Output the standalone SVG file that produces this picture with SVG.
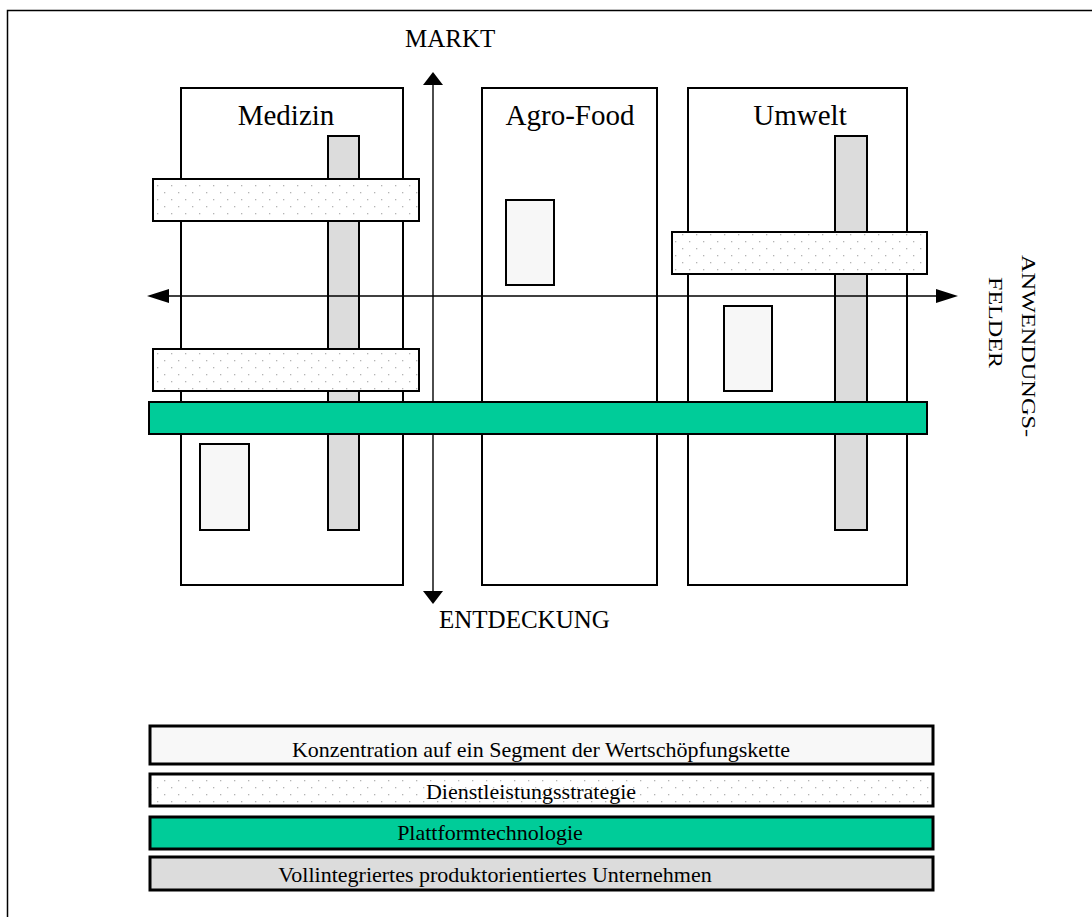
<svg xmlns="http://www.w3.org/2000/svg" width="1092" height="917" viewBox="0 0 1092 917">
  <defs>
    <pattern id="dots" x="0" y="0" width="14" height="14" patternUnits="userSpaceOnUse">
      <rect width="14" height="14" fill="#ffffff"/>
      <rect x="3" y="3" width="1.3" height="1.3" fill="#b4b4b4"/>
      <rect x="10" y="10" width="1.3" height="1.3" fill="#b4b4b4"/>
    </pattern>
  </defs>
  <style>
    .col { fill: #ffffff; stroke: #000; stroke-width: 2; }
    .vbar { fill: #dcdcdc; stroke: #000; stroke-width: 2; }
    .dotbar { fill: url(#dots); stroke: #000; stroke-width: 2; }
    .green { fill: #00cc99; stroke: #000; stroke-width: 2; }
    .small { fill: #f7f7f7; stroke: #000; stroke-width: 2; }
    .leg { stroke: #000; stroke-width: 3; }
    .axis { stroke: #000; stroke-width: 1.4; fill: none; }
    .head { fill: #000; }
    .t { font-family: "Liberation Serif", "Times New Roman", serif; fill: #000; }
    .title { font-size: 29px; text-anchor: middle; }
    .lbl { font-size: 25px; }
    .legt { font-size: 22px; text-anchor: middle; }
  </style>

  <rect width="1092" height="917" fill="#ffffff"/>
  <!-- outer frame -->
  <path d="M7.5,917 V10.5 H1092" fill="none" stroke="#000" stroke-width="1.5"/>

  <!-- application field columns -->
  <g id="col-medizin">
    <rect class="col" x="181" y="88" width="222" height="497"/>
    <text class="t title" x="286" y="125">Medizin</text>
  </g>
  <g id="col-agrofood">
    <rect class="col" x="482" y="88" width="175" height="497"/>
    <text class="t title" x="570" y="125">Agro-Food</text>
  </g>
  <g id="col-umwelt">
    <rect class="col" x="688" y="88" width="219" height="497"/>
    <text class="t title" x="800" y="125">Umwelt</text>
  </g>

  <!-- fully integrated companies (vertical bars) -->
  <g id="vbar-medizin"><rect class="vbar" x="328" y="136" width="31" height="394"/></g>
  <g id="vbar-umwelt"><rect class="vbar" x="835" y="136" width="32" height="394"/></g>

  <!-- segment concentration (small boxes) -->
  <g id="seg-agrofood"><rect class="small" x="506" y="200" width="48" height="85"/></g>
  <g id="seg-umwelt"><rect class="small" x="724" y="306" width="48" height="85"/></g>
  <g id="seg-medizin"><rect class="small" x="200" y="444" width="49" height="86"/></g>

  <!-- axes -->
  <g id="connectors">
    <line class="axis" x1="433" y1="84" x2="433" y2="592"/>
    <polygon class="head" points="433,72 423,85 443,85"/>
    <polygon class="head" points="433,604 423,591 443,591"/>
    <line class="axis" x1="167" y1="296" x2="940" y2="296"/>
    <polygon class="head" points="147,296 169,289 169,303"/>
    <polygon class="head" points="958,296 936,289 936,303"/>
  </g>

  <!-- service strategy bars -->
  <g id="dienst-medizin-1"><rect class="dotbar" x="153" y="179" width="266" height="42"/></g>
  <g id="dienst-medizin-2"><rect class="dotbar" x="153" y="349" width="266" height="42"/></g>
  <g id="dienst-umwelt"><rect class="dotbar" x="672" y="232" width="255" height="42"/></g>

  <!-- platform technology bar -->
  <g id="plattform"><rect class="green" x="149" y="402" width="778" height="32"/></g>

  <!-- axis labels -->
  <g id="label-markt"><text class="t lbl" x="405" y="47">MARKT</text></g>
  <g id="label-entdeckung"><text class="t lbl" x="439" y="628">ENTDECKUNG</text></g>
  <g id="label-anwendungsfelder">
    <text class="t" font-size="18" transform="translate(1022,255) rotate(90)" textLength="182" lengthAdjust="spacingAndGlyphs">ANWENDUNGS-</text>
    <text class="t" font-size="18" transform="translate(989,277) rotate(90)" textLength="91" lengthAdjust="spacingAndGlyphs">FELDER</text>
  </g>

  <!-- legend -->
  <g id="legend-konzentration">
    <rect class="leg" x="150" y="726" width="783" height="38" fill="#f8f8f8"/>
    <text class="t legt" x="541" y="757">Konzentration auf ein Segment der Wertschöpfungskette</text>
  </g>
  <g id="legend-dienst">
    <rect class="leg" x="150" y="774" width="783" height="32" fill="url(#dots)"/>
    <text class="t legt" x="531" y="799">Dienstleistungsstrategie</text>
  </g>
  <g id="legend-plattform">
    <rect class="leg" x="150" y="817" width="783" height="32" fill="#00cc99"/>
    <text class="t legt" x="490" y="840">Plattformtechnologie</text>
  </g>
  <g id="legend-vollintegriert">
    <rect class="leg" x="150" y="857" width="783" height="33" fill="#dcdcdc"/>
    <text class="t legt" x="495" y="882">Vollintegriertes produktorientiertes Unternehmen</text>
  </g>
</svg>
